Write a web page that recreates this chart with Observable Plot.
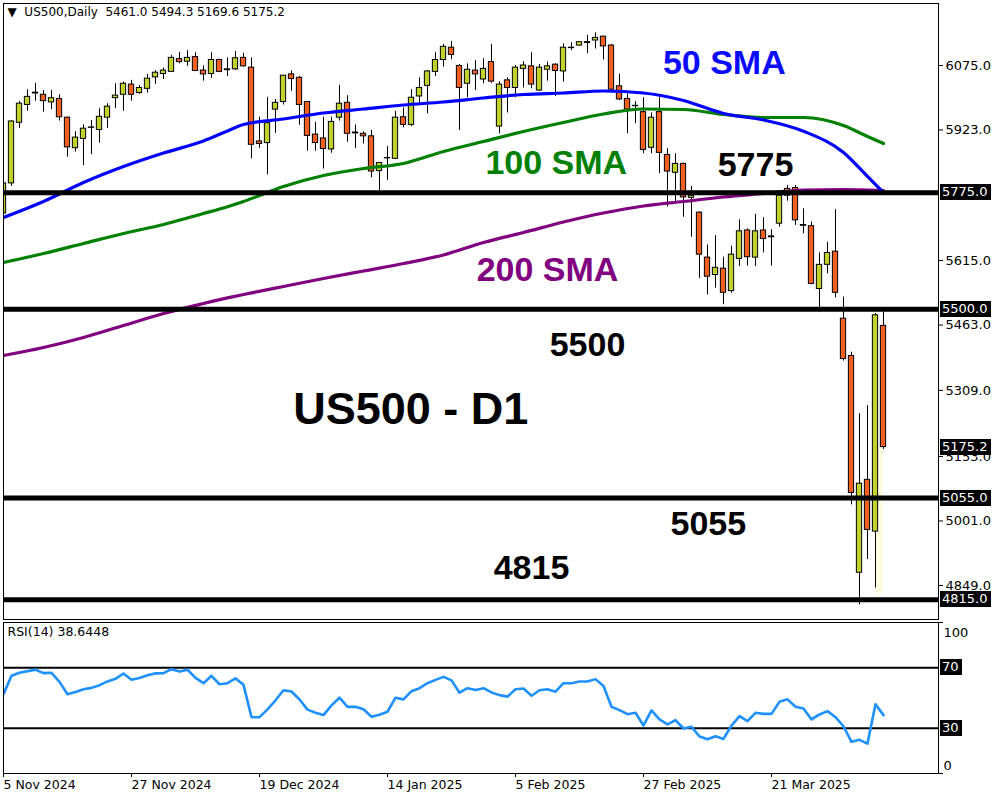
<!DOCTYPE html>
<html><head><meta charset="utf-8">
<script src="https://cdn.jsdelivr.net/npm/d3@7"></script>
<script src="https://cdn.jsdelivr.net/npm/@observablehq/plot@0.6"></script>
<style>
body{margin:0;background:#fff;}
#wrap{position:relative;width:1000px;height:800px;background:#fff;overflow:hidden;}
#wrap svg{position:absolute;left:0;}
.vbox{position:absolute;left:940px;height:16px;line-height:16px;padding:0 3px 0 2px;background:#000;color:#fff;
  font-family:"DejaVu Sans",sans-serif;font-size:13px;white-space:nowrap;}
</style></head><body><div id="wrap"></div>
<script>
// ---------- DATA ----------
const symbol = "US500,Daily";
const opens = [5726,5797,5940,5982,6009,6006,5988,5996,5952,5880,
5902,5928,5923,5952,5998,6006,6030,6010,6020,6047,
6055,6060,6090,6084,6095,6063,6055,6088,6064,6066,
6093,6070,5896,5892,5971,5989,6054,6046,5989,5912,
5903,5877,5952,5987,5917,5914,5908,5826,5856,5855,
5953,5935,6002,6027,6060,6088,6117,6074,6032,6063,
6042,6083,5931,6040,6022,6067,6073,6016,6065,6077,
6061,6116,6122,6128,6134,6143,6122,6026,5996,5979,
5965,5881,5965,5864,5822,5843,5763,5728,5622,5581,
5596,5543,5619,5686,5622,5686,5672,5702,5768,5786,
5699,5696,5548,5605,5636,5478,5390,4879,5098,4976,
5461.0];
const highs = [5800,5945,5990,6018,6033,6016,6016,6006,5953,5919,
5935,5945,5973,5985,6032,6036,6040,6028,6054,6063,
6069,6099,6106,6110,6105,6074,6105,6090,6093,6108,
6104,6093,5953,6000,5995,6051,6062,6049,5990,5941,
5953,5953,6028,6004,5935,5919,5922,5846,5884,5967,
5975,6018,6046,6063,6106,6125,6132,6077,6079,6087,
6091,6125,6037,6046,6075,6084,6105,6077,6083,6079,
6126,6129,6131,6146,6152,6144,6125,6055,6008,5990,
5999,5963,5999,5879,5867,5845,5790,5730,5652,5674,
5623,5649,5711,5690,5724,5716,5688,5772,5792,5792,
5737,5706,5633,5658,5735,5529,5399,5254,5273,5490,
5494.3];
const lows = [5720,5790,5927,5967,5991,5965,5971,5944,5859,5871,
5839,5865,5892,5927,5973,5967,5991,6007,6010,6030,
6042,6059,6079,6073,6062,6038,6045,6058,6049,6063,
6071,5855,5880,5817,5915,5982,6014,5934,5873,5873,
5831,5868,5944,5894,5879,5890,5810,5780,5804,5853,
5928,5931,5982,5961,6049,6071,6089,5922,5999,6016,
6032,6033,5914,5963,5999,6022,6020,6014,6038,6002,
6036,6110,6121,6103,6114,6088,6016,5992,5914,5938,
5867,5867,5820,5741,5749,5717,5670,5573,5534,5550,
5511,5538,5601,5602,5601,5633,5602,5694,5755,5698,
5678,5558,5493,5584,5527,5378,5039,4803,4910,4843,
5169.6];
const closes = [5797,5943,5985,6001,6011,5991,5998,5953,5882,5905,
5926,5929,5954,5978,6004,6032,6006,6022,6044,6058,
6063,6093,6083,6093,6062,6054,6088,6060,6066,6092,
6073,5888,5890,5939,5987,6051,6043,5982,5909,5892,
5878,5942,5985,5914,5915,5908,5825,5845,5857,5952,
5935,5999,6022,6061,6088,6119,6100,6022,6065,6054,
6067,6037,6030,6022,6070,6075,6030,6070,6073,6062,
6117,6117,6130,6130,6140,6120,6018,5995,5971,5980,
5876,5952,5869,5825,5843,5764,5768,5629,5577,5598,
5539,5629,5684,5623,5684,5666,5670,5768,5784,5710,
5697,5560,5605,5633,5539,5383,5067,5089,4980,5486,
5175.2];
const rsi14 = [52.5,64.7,66.7,67.8,68.7,66.5,66.7,60.7,52.5,54,
55.8,56.7,58.5,61,62.7,66.2,62.1,63.3,65.1,66.3,
66.5,69.1,67.5,68.7,63.3,59.8,64.7,59.1,59.8,63,
58.7,37.3,37.3,42.5,48.5,55.1,54.3,49,42.3,40.2,
38.7,45.1,50.2,44.1,44.2,42.5,37.6,38.9,40.9,50.2,
49.1,54.5,56.5,59.8,62,64,61.7,53.5,56.5,55.3,
56.5,53.7,51.9,50.9,55.8,56.3,51.5,55.1,55.8,54.2,
59.8,59.8,60.9,60.9,62.5,58,44.2,42,39.3,40.2,
31.8,41.8,35.8,32.5,35.3,29.8,30.9,24.5,22.7,24.7,
22.9,31.7,38,34.7,40.2,39.5,39.5,47.5,49.1,44.2,
43.1,35.8,39.1,41.3,37.3,31.3,21,22.3,19.8,45.8,
38.6448];
const smaIndex = [0,5,10,15,20,25,28,30,35,40,45,50,55,60,65,70,75,80,85,90,95,100,105,108,110];
const sma50  = [5716.6,5754.3,5799.1,5836.8,5868.7,5897,5920.6,5935.9,5948.8,5963,5972.4,5981.9,5988.9,5998.4,6006.6,6010.2,6014.9,6010.2,5992.5,5961.8,5946.5,5920,5869.9,5813.3,5775.5];
const sma100 = [5610.5,5631.7,5655.3,5678.9,5700.1,5726,5742,5754.3,5789.7,5815.6,5832.1,5843.9,5872.2,5895.8,5919.4,5940.6,5960.6,5972.4,5971.2,5959.5,5952.4,5952.4,5933.5,5907.6,5891.1];
const sma200 = [5391.2,5410,5433.6,5461.9,5490.2,5513.8,5527,5535,5553.9,5572.7,5590.4,5608.1,5628.2,5657.6,5681.2,5706,5727.2,5743.7,5754.3,5764.9,5773.2,5781.4,5782.6,5781.4,5780.3];
const levels = [5775, 5500, 5055, 4815];
const priceTicks = [6075, 5923, 5615, 5463, 5309, 5153, 5001, 4849];
const rsiLevels = [70, 30];
const dateTickIndex = [0, 16, 32, 48, 64, 80, 96];
const dateTickLabels = ["5 Nov 2024","27 Nov 2024","19 Dec 2024","14 Jan 2025","5 Feb 2025","27 Feb 2025","21 Mar 2025"];
const noteText  = ["50 SMA","100 SMA","200 SMA","5775","5500","US500 - D1","5055","4815"];
const noteIndex = [90.1, 69.1, 68, 94, 73, 50.9, 88.1, 66];
const notePrice = [6080, 5846, 5592, 5839, 5415, 5264, 4993, 4889];
const noteColor = ["#0a0aff","#008000","#800080","#000","#000","#000","#000","#000"];

// ---------- BUILD ----------
const N = closes.length;
const candles = d3.range(N).map(i => ({i, o: opens[i], h: highs[i], l: lows[i], c: closes[i]}));
const smaLine = arr => smaIndex.map((i, k) => ({i, v: arr[k]}));
const rsiData = rsi14.map((v, i) => ({i, v}));
const notes = noteText.map((t, k) => ({t, i: noteIndex[k], p: notePrice[k], color: noteColor[k], size: t.startsWith("US500") ? 45 : 34}));
const GREEN = "#c3d12e", RED = "#f25f22";
const xDomain = [0, 116.875];
const nb = "\u00a0";
const title = `▼${nb}${nb}${symbol}${nb}${nb}${opens[N-1].toFixed(1)} ${highs[N-1].toFixed(1)} ${lows[N-1].toFixed(1)} ${closes[N-1].toFixed(1)}`;
const boxValues = [...levels.slice(0, 2), closes[N-1], ...levels.slice(2)];

const price = Plot.plot({
  width: 1000, height: 620,
  marginLeft: 3, marginRight: 62, marginTop: 3, marginBottom: 1,
  style: {fontFamily: "DejaVu Sans", fontSize: "13px", background: "white", overflow: "visible"},
  x: {domain: xDomain, axis: null},
  y: {domain: [4768.7, 6221.2]},
  marks: [
    Plot.rect([0], {x1: () => N - 2, x2: () => N - 1, y1: () => closes[N-1], y2: () => lows[N-2] - 13, fill: "#fffbe2", clip: true}),
    Plot.ruleX(candles, {x: "i", y1: "l", y2: "h", stroke: "black", strokeWidth: 1, clip: true}),
    Plot.rect(candles, {x1: d => d.i - 0.33, x2: d => d.i + 0.33, y1: "o", y2: "c",
      fill: d => d.c >= d.o ? GREEN : RED, stroke: "black", strokeWidth: 1, clip: true}),
    Plot.line(smaLine(sma200), {x: "i", y: "v", stroke: "#800080", strokeWidth: 3.2, curve: "monotone-x", clip: true}),
    Plot.line(smaLine(sma100), {x: "i", y: "v", stroke: "#008000", strokeWidth: 3.2, curve: "monotone-x", clip: true}),
    Plot.line(smaLine(sma50), {x: "i", y: "v", stroke: "#0000ff", strokeWidth: 3.2, curve: "monotone-x", clip: true}),
    Plot.ruleY(levels, {stroke: "black", strokeWidth: 5}),
    Plot.frame({stroke: "black"}),
    Plot.axisY({anchor: "right", ticks: priceTicks, tickFormat: d => d.toFixed(1), tickSize: 4, tickPadding: 3, label: null, fontSize: 13}),
    Plot.text(notes, {x: "i", y: "p", text: "t", fill: "color", fontSize: "size", fontWeight: "bold", fontFamily: "Liberation Sans, Arial, sans-serif"}),
    Plot.text([title], {frameAnchor: "top-left", dx: 4, dy: 4, textAnchor: "start", lineAnchor: "top", fontSize: 12, fill: "black"})
  ]
});

const rsi = Plot.plot({
  width: 1000, height: 180,
  marginLeft: 3, marginRight: 62, marginTop: 2, marginBottom: 27,
  style: {fontFamily: "DejaVu Sans", fontSize: "13px", background: "white", overflow: "visible"},
  x: {domain: xDomain},
  y: {domain: [0, 100]},
  marks: [
    Plot.ruleY(rsiLevels, {stroke: "black", strokeWidth: 2}),
    Plot.line(rsiData, {x: "i", y: "v", stroke: "#1e90ff", strokeWidth: 2.6, clip: true}),
    Plot.frame({stroke: "black"}),
    Plot.axisY({anchor: "right", ticks: [0, 100], tickSize: 4, tickFormat: () => "", label: null}),
    Plot.text([100], {y: d => d, frameAnchor: "right", dx: 5, dy: 10, textAnchor: "start", text: d => String(d), fontSize: 13}),
    Plot.text([0], {y: d => d, frameAnchor: "right", dx: 5, dy: -8, textAnchor: "start", text: d => String(d), fontSize: 13}),
    Plot.axisX({ticks: dateTickIndex, tickFormat: i => dateTickLabels[dateTickIndex.indexOf(i)], tickSize: 4, tickPadding: 3, textAnchor: "start", label: null, fontSize: 12.5}),
    Plot.text([`RSI(14) ${rsi14[N-1]}`], {frameAnchor: "top-left", dx: 4, dy: 5, textAnchor: "start", lineAnchor: "top", fontSize: 12.5, fill: "black"})
  ]
});

const wrap = document.getElementById("wrap");
const PRICE_TOP = 0, RSI_TOP = 620;
price.style.top = PRICE_TOP + "px";
rsi.style.top = RSI_TOP + "px";
wrap.appendChild(price);
wrap.appendChild(rsi);

// black value boxes on the right axis, placed with each plot's own y scale
function addBoxes(plot, top, values, fmt) {
  const y = plot.scale("y");
  values.forEach(v => {
    const div = document.createElement("div");
    div.className = "vbox";
    div.textContent = fmt(v);
    div.style.top = (top + y.apply(v) - 8) + "px";
    wrap.appendChild(div);
  });
}
addBoxes(price, PRICE_TOP, boxValues, v => v.toFixed(1));
addBoxes(rsi, RSI_TOP, rsiLevels, v => String(v));
</script></body></html>
